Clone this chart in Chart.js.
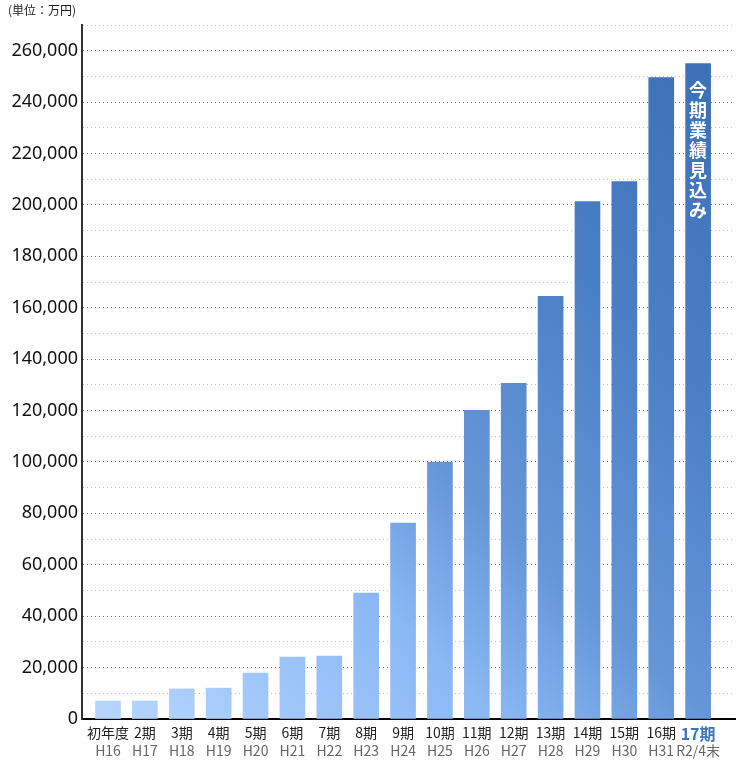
<!DOCTYPE html>
<html lang="ja">
<head>
<meta charset="utf-8">
<title>売上推移</title>
<script src="https://cdn.jsdelivr.net/npm/chart.js@4/dist/chart.umd.min.js"></script>
<style>
  body { margin: 0; background: #fff; }
  .wrap { position: relative; width: 740px; height: 760px; }
  .unit {
    position: absolute; left: 8px; top: 1px;
    font: 12px "Noto Sans CJK JP", sans-serif; color: #222;
  }
</style>
</head>
<body>
<div class="wrap">
  <div class="unit">(単位：万円)</div>
  <canvas id="myChart" width="740" height="760"></canvas>
</div>
<script>
"use strict";

// Data

const periods = ["初年度", "2期", "3期", "4期", "5期", "6期", "7期", "8期", "9期",
  "10期", "11期", "12期", "13期", "14期", "15期", "16期", "17期"];
const years = ["H16", "H17", "H18", "H19", "H20", "H21", "H22", "H23", "H24",
  "H25", "H26", "H27", "H28", "H29", "H30", "H31", "R2/4末"];
const sales = [7000, 7000, 11700, 12000, 17900, 24100, 24500, 49000, 76200,
  100000, 120100, 130600, 164400, 201300, 209100, 249500, 255000];
const forecastText = "今期業績見込み";

const lastIndex = sales.length - 1;
const blue = "#3f73b8";

// diagonal gradient over the chart area, light at bottom-left, dark at top-right
let gradient = null;
const barColor = (context) => {
  const { ctx, chartArea } = context.chart;
  if (!chartArea) return "#7aaeef";
  if (!gradient) {
    gradient = ctx.createLinearGradient(chartArea.left, chartArea.bottom, chartArea.right, chartArea.top);
    gradient.addColorStop(0, "#b8d7fe");
    gradient.addColorStop(0.3, "#8ab8f5");
    gradient.addColorStop(0.45, "#6596d8");
    gradient.addColorStop(0.7, "#4a7fc5");
    gradient.addColorStop(1, "#3a6eb4");
  }
  return gradient;
};

// vertical white text inside the last bar
const forecastLabel = {
  id: "forecastLabel",
  afterDatasetsDraw(chart) {
    const bar = chart.getDatasetMeta(0).data[lastIndex];
    const ctx = chart.ctx;
    ctx.save();
    ctx.fillStyle = "#fff";
    ctx.font = "bold 18px 'Noto Sans CJK JP'";
    ctx.textAlign = "center";
    ctx.textBaseline = "middle";
    [...forecastText].forEach((ch, i) => {
      ctx.fillText(ch, bar.x, bar.y + 27 + i * 20);
    });
    ctx.restore();
  },
};

const xTicks = (axis) => {
  axis.ticks = periods.map((_, i) => ({ value: i }));
};

const ctx = document.getElementById("myChart").getContext("2d");
const myChart = new Chart(ctx, {
  type: "bar",
  data: {
    datasets: [
      {
        data: sales.map((v, i) => ({ x: i, y: v })),
        backgroundColor: barColor,
        barThickness: 25,
        borderWidth: 0,
      },
    ],
  },
  options: {
    responsive: false,
    animation: false,
    layout: { padding: { top: 25, right: 5, bottom: 0, left: 0 } },
    plugins: { legend: { display: false }, tooltip: { enabled: false } },
    scales: {
      x: {
        type: "linear",
        position: "bottom",
        offset: false,
        min: -0.705,
        max: 17,
        afterBuildTicks: xTicks,
        afterFit: (axis) => { axis.height = 23; },
        grid: { display: false, drawTicks: false },
        border: { display: true, color: "#000", width: 2 },
        ticks: {
          padding: 5,
          autoSkip: false,
          maxRotation: 0,
          callback: (v) => periods[v],
          color: (c) => (c.index === lastIndex ? blue : "#222"),
          font: (c) => (c.index === lastIndex
            ? { family: "Noto Sans CJK JP", size: 16, weight: "bold" }
            : { family: "Noto Sans CJK JP", size: 14 }),
        },
      },
      x2: {
        type: "linear",
        position: "bottom",
        offset: false,
        min: -0.705,
        max: 17,
        afterBuildTicks: xTicks,
        afterFit: (axis) => { axis.height = 18; },
        grid: { display: false, drawTicks: false },
        border: { display: false },
        ticks: {
          padding: 0,
          autoSkip: false,
          maxRotation: 0,
          callback: (v) => years[v],
          color: "#666",
          font: { family: "Noto Sans CJK JP", size: 14 },
        },
      },
      y: {
        min: 0,
        max: 270000,
        afterFit: (axis) => { axis.width = 82; },
        grid: {
          drawTicks: false,
          lineWidth: 1,
          color: (c) => (c.tick && c.tick.value % 20000 === 0 ? "#777" : "#bbb"),
        },
        border: { display: true, color: "#333", width: 2, dash: [1, 3] },
        ticks: {
          stepSize: 10000,
          padding: 4,
          color: "#111",
          font: { family: "Noto Sans", size: 18 },
          callback: (v) => (v % 20000 === 0 && v < 270000 ? v.toLocaleString("en-US") : ""),
        },
      },
    },
  },
  plugins: [forecastLabel],
});
</script>
</body>
</html>
